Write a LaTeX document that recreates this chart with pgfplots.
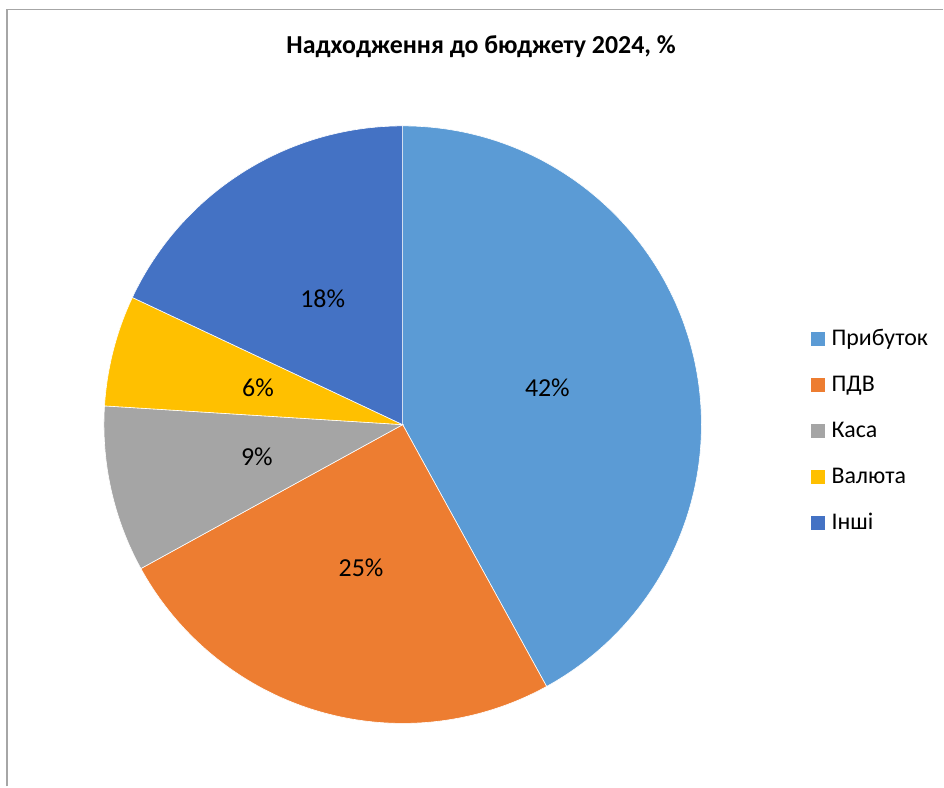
\documentclass[border=0pt]{standalone}
\usepackage{pgfplots}
\pgfplotsset{compat=1.18}
\usepackage{pgfplotstable}
\usepackage{fontspec}
\setmainfont{Carlito}
\definecolor{pie0}{HTML}{5B9BD5}
\definecolor{pie1}{HTML}{ED7D31}
\definecolor{pie2}{HTML}{A5A5A5}
\definecolor{pie3}{HTML}{FFC000}
\definecolor{pie4}{HTML}{4472C4}
\definecolor{framegray}{HTML}{A6A6A6}
\pgfplotstableread[col sep=comma]{
name,value
Прибуток,42
ПДВ,25
Каса,9
Валюта,6
Інші,18
}\piedata
\newcommand\labelfont{\fontsize{26}{30}\selectfont}
\pgfplotsset{mysq/.style={legend image code/.code={\fill[##1] (0bp,-7bp) rectangle (14bp,7bp);}}}
\begin{document}
\begin{tikzpicture}
\xdef\piestart{90}
\foreach \i in {0,...,4} {
  \pgfplotstablegetelem{\i}{value}\of\piedata
  \let\v\pgfplotsretval
  \pgfmathsetmacro\s{\piestart}
  \pgfmathsetmacro\e{\piestart-3.6*\v}
  \pgfmathsetmacro\m{(\s+\e)/2}
  \expandafter\xdef\csname pieS\i\endcsname{\s}
  \expandafter\xdef\csname pieE\i\endcsname{\e}
  \expandafter\xdef\csname pieM\i\endcsname{\m}
  \expandafter\xdef\csname pieV\i\endcsname{\v}
  \pgfplotstablegetelem{\i}{name}\of\piedata
  \expandafter\xdef\csname pieN\i\endcsname{\pgfplotsretval}
  \xdef\piestart{\e}
}
\begin{axis}[
  x=1bp, y=1bp, xmin=0, xmax=944, ymin=0, ymax=787,
  hide axis, clip=false,
  legend style={at={(axis cs:811,459)}, anchor=north west, draw=none, fill=none,
    font=\fontsize{24}{29}\selectfont, row sep=23bp, inner sep=0pt,
    nodes={text height=18bp, text depth=5bp, inner sep=0pt},
    /tikz/every odd column/.append style={column sep=7bp}},
  legend cell align=left,
]
\path (axis cs:0,0) rectangle (axis cs:944,787);
\draw[framegray, line width=1.5bp] (axis cs:7,0) -- (axis cs:7,777.5) -- (axis cs:944,777.5);
\pgfplotsinvokeforeach{0,...,4}{
  \edef\temp{\noexpand\fill[pie#1, draw=white, line width=0.6bp] (axis cs:403,362) -- ++(\csname pieS#1\endcsname:299bp) arc[start angle=\csname pieS#1\endcsname, end angle=\csname pieE#1\endcsname, radius=299bp] -- cycle;}
  \temp
}
\pgfplotsinvokeforeach{0,...,4}{
  \edef\temp{\noexpand\node[font=\noexpand\labelfont, shift={(\csname pieM#1\endcsname:149.5bp)}] at (axis cs:403,362) {\csname pieV#1\endcsname\noexpand\%};}
  \temp
  \addlegendimage{mysq, fill=pie#1, draw=none}
  \addlegendentryexpanded{\csname pieN#1\endcsname}
}
\node[font=\bfseries\fontsize{26}{31}\selectfont, anchor=base] at (axis cs:481.5,733) {Надходження до бюджету 2024, \%};
\end{axis}
\end{tikzpicture}
\end{document}
